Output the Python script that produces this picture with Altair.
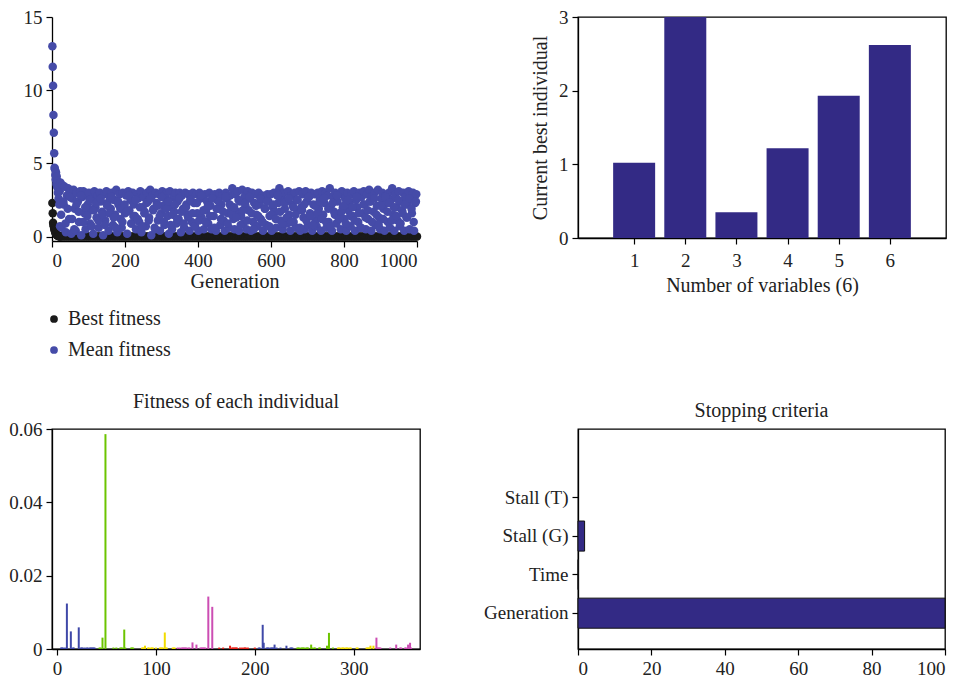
import altair as alt
import pandas as pd

FONT = "Liberation Serif"

# ---------------- Panel 1: fitness per generation ----------------
early_gen = list(range(1, 23))
mean_early = [13.0, 11.6, 10.3, 8.3, 7.1, 5.7, 4.7, 4.6, 4.2, 3.9, 4.4,
              3.6, 4.1, 3.4, 3.8, 3.0, 3.3, 2.6, 3.5, 2.2, 3.1, 0.7]
best_early = [2.3, 1.6, 0.95, 0.8, 0.7, 0.55, 0.45, 0.38, 0.3, 0.25, 0.2,
              0.16, 0.13, 0.1, 0.08, 0.06, 0.05, 0.04, 0.03, 0.02, 0.02, 0.01]

# mean fitness, generations 23, 26, 29, ...
mean_late = [
    3.7, 0.6, 3.5, 2.2, 3.4, 0.3, 2.8, 3.3, 1.2, 3.1, 0.2, 2.6, 3.2, 1.9, 0.4, 3.0, 2.4, 1.0, 3.1, 0.1,
    2.7, 3.1, 1.6, 0.5, 2.9, 2.2, 3.0, 0.9, 1.8, 2.6, 0.2, 3.1, 2.0, 1.3, 2.8, 0.6, 3.0, 2.4, 1.7, 0.1,
    2.9, 1.1, 3.1, 2.3, 0.4, 2.7, 1.9, 3.0, 0.8, 2.5, 1.5, 3.2, 0.3, 2.2, 2.9, 1.2, 0.6, 3.0, 2.0, 1.6,
    2.8, 0.2, 3.1, 1.8, 2.5, 0.9, 3.0, 2.2, 1.4, 0.5, 2.9, 2.6, 1.0, 3.1, 0.3, 2.0, 2.7, 1.7, 0.7, 3.0,
    2.4, 1.3, 3.2, 0.1, 2.8, 1.9, 0.6, 3.0, 2.3, 1.1, 2.9, 0.4, 1.6, 3.1, 2.1, 0.8, 2.6, 3.0, 1.4, 0.2,
    3.1, 2.0, 0.5, 2.7, 1.7, 3.0, 0.9, 2.4, 1.2, 3.0, 0.3, 2.8, 1.9, 0.6, 3.0, 2.2, 1.5, 2.9, 0.4, 2.5,
    1.0, 3.0, 2.3, 0.7, 2.9, 1.6, 0.4, 3.0, 2.6, 1.3, 2.8, 0.5, 2.9, 1.8, 2.4, 0.9, 3.0, 2.1, 0.5, 2.7,
    1.4, 2.9, 0.4, 2.5, 1.9, 3.0, 0.8, 2.2, 2.8, 1.1, 0.4, 3.0, 2.6, 1.6, 0.6, 2.8, 2.0, 3.3, 1.2, 0.5,
    2.9, 1.7, 3.1, 0.4, 2.4, 1.4, 3.2, 0.9, 2.7, 2.1, 0.5, 3.1, 1.8, 2.6, 0.4, 3.0, 1.0, 2.3, 2.9, 1.5,
    0.7, 3.0, 2.2, 1.2, 2.8, 0.4, 2.6, 1.9, 0.8, 2.9, 2.4, 1.4, 2.9, 0.4, 2.0, 3.0, 1.7, 0.6, 2.8, 2.3,
    3.3, 1.1, 2.7, 0.5, 3.0, 1.9, 2.4, 0.9, 3.1, 1.5, 0.4, 2.8, 2.2, 1.0, 3.0, 0.6, 2.5, 1.8, 3.1, 0.4,
    2.0, 2.9, 1.3, 0.5, 3.1, 2.4, 0.8, 2.7, 1.6, 3.0, 0.4, 2.2, 2.9, 1.1, 0.7, 3.0, 1.9, 2.6, 0.4, 3.1,
    1.5, 2.3, 3.0, 0.6, 2.8, 1.0, 3.3, 2.1, 0.4, 2.7, 1.7, 3.0, 0.9, 2.4, 1.3, 2.9, 0.5, 3.1, 2.0, 1.2,
    2.6, 0.4, 3.0, 1.8, 2.3, 0.7, 2.9, 1.4, 3.1, 0.4, 2.5, 2.0, 1.0, 3.0, 0.6, 2.7, 1.6, 3.1, 2.2, 0.5,
    2.9, 1.2, 3.2, 2.4, 0.4, 2.8, 1.7, 3.0, 0.8, 2.1, 3.2, 1.3, 0.5, 2.6, 3.0, 1.9, 0.4, 2.8, 2.3, 1.0,
    3.0, 0.6, 2.5, 3.3, 1.5, 0.4, 2.9, 2.0, 1.1, 3.1, 0.7, 2.4, 1.8, 3.0, 0.4, 2.7, 1.3, 2.2, 3.1, 0.5,
    2.6, 1.6, 3.0, 0.4, 2.3, 2.9,
]
late_gen = list(range(23, 1001, 3))[:len(mean_late)]

# mean fitness, generations 25, 31, 37, ...
mean_mid = [
    1.5, 2.4, 0.9, 1.9, 2.7, 1.2, 0.5, 2.2, 1.7, 2.8, 1.0, 2.0, 1.4, 2.5, 0.7, 1.8, 2.3, 1.1, 2.6, 1.5,
    0.8, 2.1, 1.6, 2.7, 1.3, 0.6, 2.4, 1.9, 1.0, 2.2, 1.7, 2.8, 0.9, 1.4, 2.5, 1.2, 2.0, 0.7, 1.6, 2.3,
    1.1, 2.6, 1.8, 0.5, 2.1, 1.4, 2.7, 1.0, 1.9, 2.4, 0.8, 1.5, 2.2, 1.2, 2.6, 1.7, 0.9, 2.0, 1.3, 2.5,
    1.6, 0.7, 2.3, 1.1, 2.8, 1.8, 1.0, 2.1, 1.4, 2.6, 0.6, 1.9, 2.4, 1.2, 1.7, 2.7, 0.9, 2.2, 1.5, 2.0,
    1.3, 2.5, 0.8, 1.8, 2.3, 1.1, 2.7, 1.6, 0.5, 2.1, 1.4, 2.6, 1.0, 1.9, 2.4, 0.7, 1.5, 2.2, 1.2, 2.8,
    1.7, 0.9, 2.3, 1.3, 2.6, 1.0, 2.0, 1.5, 2.5, 0.6, 1.8, 2.2, 1.1, 2.7, 1.4, 0.8, 2.1, 1.6, 2.4, 1.2,
    2.6, 1.0, 1.9, 0.7, 2.3, 1.5, 2.8, 1.2, 1.7, 2.1, 0.9, 2.5, 1.4, 2.0, 1.1, 2.7, 1.6, 0.6, 2.2, 1.3,
    1.8, 2.4, 1.0, 2.6, 1.5, 0.8, 2.1, 1.2, 2.7, 1.7, 2.3, 1.1, 2.0, 1.4, 2.5, 0.9, 1.6, 2.2, 1.3, 2.6,
    1.9, 1.0, 2.4,
]
mid_gen = list(range(25, 1001, 6))[:len(mean_mid)]

best_late_gen = list(range(25, 1001, 5))
best_late = [0.0 for _ in best_late_gen]  # best fitness stays at zero

rows1 = []
for g, v in zip(early_gen + best_late_gen, best_early + best_late):
    rows1.append({"gen": g, "val": v, "series": "Best fitness"})
for g, v in zip(early_gen + late_gen + mid_gen, mean_early + mean_late + mean_mid):
    rows1.append({"gen": g, "val": v, "series": "Mean fitness"})
df1 = pd.DataFrame(rows1)

tl = alt.Chart(df1).mark_circle(size=72, opacity=1).encode(
    x=alt.X("gen:Q", scale=alt.Scale(domain=[0, 1000], nice=False),
            axis=alt.Axis(values=[0, 200, 400, 600, 800, 1000], format="d",
                          title="Generation", titlePadding=1)),
    y=alt.Y("val:Q", scale=alt.Scale(domain=[-0.3, 15], nice=False, zero=False),
            axis=alt.Axis(values=[0, 5, 10, 15], title=None)),
    color=alt.Color("series:N",
                    scale=alt.Scale(domain=["Best fitness", "Mean fitness"], range=["#1a1a1a", "#454ba8"]),
                    legend=alt.Legend(title=None, orient="none", legendX=-8, legendY=292,
                                      labelFont=FONT, labelFontSize=20, labelColor="#222",
                                      symbolSize=60, rowPadding=11, labelOffset=4, padding=0)),
).properties(width=365, height=224, view=alt.ViewBackground(stroke=None))

# ---------------- Panel 2: current best individual ----------------
var_idx = [1, 2, 3, 4, 5, 6]
best_ind = [1.02, 3.0, 0.35, 1.22, 1.93, 2.62]
df2 = pd.DataFrame({"var": var_idx, "best": best_ind})

tr = alt.Chart(df2).mark_bar(color="#332a85", size=42, clip=True).encode(
    x=alt.X("var:Q", scale=alt.Scale(domain=[0, 7], nice=False),
            axis=alt.Axis(values=var_idx, title="Number of variables (6)",
                          labelPadding=7, titlePadding=5)),
    y=alt.Y("best:Q", scale=alt.Scale(domain=[0, 3], nice=False),
            axis=alt.Axis(values=[0, 1, 2, 3], title="Current best individual", titlePadding=8)),
).properties(width=368, height=221)

# ---------------- Panel 3: fitness of each individual ----------------
big_idx = [10, 14, 22, 46, 49, 68, 89, 109, 137, 141, 153, 157, 175, 208, 209, 220,
           232, 257, 273, 275, 317, 320, 323, 343, 355, 357]
big_val = [0.0124, 0.0048, 0.0059, 0.0031, 0.0586, 0.0053, 0.0009, 0.0045, 0.0018, 0.0012,
           0.0143, 0.0115, 0.0009, 0.0066, 0.0017, 0.0012, 0.0009, 0.0012, 0.0009, 0.0044,
           0.0009, 0.0009, 0.0031, 0.0012, 0.0012, 0.0017]
small_idx = [4, 5, 6, 8, 16, 17, 24, 25, 26, 28, 30, 31, 33, 34, 35, 36, 37, 38,
             43, 44, 57, 60, 64, 65, 66, 69, 75, 76, 77,
             86, 87, 88, 92, 93, 95, 96, 97, 100, 104, 105, 106, 107, 110, 111, 117, 118, 119,
             122, 124, 126, 127, 128, 129, 130, 131, 133, 134, 145, 146, 147, 148, 149, 150,
             164, 168, 177, 178, 179, 180, 181, 182, 185, 187, 189, 190, 191, 193, 200,
             204, 205, 212, 213, 214, 216, 217, 218, 219, 222, 226, 236, 237, 238,
             243, 244, 245, 247, 248, 249, 250, 252, 253, 254, 258, 260, 261, 265, 266, 279,
             284, 285, 286, 288, 289, 290, 292, 293, 294, 296, 297, 303, 304, 313, 314, 315, 316,
             324, 325, 326, 327, 337, 347, 348, 352, 353, 358]
small_val = 0.0004
group_names = ["g1", "g2", "g3", "g4", "g5"]
group_colors = ["#3f48a8", "#6cc400", "#f2dc00", "#cc4db3", "#e8251e"]

rows3 = []
for i, v in zip(big_idx + small_idx, big_val + [small_val] * len(small_idx)):
    rows3.append({"ind": i, "fit": v, "grp": group_names[((i - 1) // 40) % 5]})
df3 = pd.DataFrame(rows3)

bl = alt.Chart(df3).mark_bar(size=2).encode(
    x=alt.X("ind:Q", scale=alt.Scale(domain=[0, 362], nice=False),
            axis=alt.Axis(values=[0, 100, 200, 300], title=None)),
    y=alt.Y("fit:Q", scale=alt.Scale(domain=[0, 0.06], nice=False),
            axis=alt.Axis(values=[0, 0.02, 0.04, 0.06], title=None,
                          labelExpr="datum.value == 0 ? '0' : format(datum.value, '.2f')")),
    color=alt.Color("grp:N", scale=alt.Scale(domain=group_names, range=group_colors), legend=None),
).properties(width=368, height=220, title="Fitness of each individual")

# ---------------- Panel 4: stopping criteria ----------------
criteria = ["Stall (T)", "Stall (G)", "Time", "Generation"]
crit_val = [0.0, 1.8, 0.1, 100.0]
df4 = pd.DataFrame({"crit": criteria, "pct": crit_val})

br = alt.Chart(df4).mark_bar(color="#332a85", strokeWidth=1).encode(
    x=alt.X("pct:Q", scale=alt.Scale(domain=[0, 100], nice=False),
            axis=alt.Axis(values=[0, 20, 40, 60, 80, 100], title=None)),
    y=alt.Y("crit:N", sort=criteria,
            scale=alt.Scale(paddingInner=0.22, paddingOuter=0.963, align=0.72),
            axis=alt.Axis(title=None, labelPadding=4)),
    stroke=alt.condition(alt.datum.pct > 0, alt.value("#111111"), alt.value("transparent")),
).properties(width=367, height=220, title="Stopping criteria")

chart = alt.concat(
    tl, tr, bl, br, columns=2, spacing={"row": 188, "column": 158}, bounds="flush"
).resolve_scale(
    color="independent"
).properties(
    padding={"left": 8, "top": 7, "right": 5, "bottom": 5}
).configure(
    font=FONT, background="white"
).configure_axis(
    labelFont=FONT, titleFont=FONT, labelFontSize=19, titleFontSize=20,
    titleFontWeight="normal", labelColor="#222", titleColor="#222",
    domainColor="black", domainWidth=1.3, tickColor="black", tickSize=6, tickWidth=1.2,
    grid=False, labelPadding=4
).configure_view(
    stroke="black", strokeWidth=1.3
).configure_title(
    font=FONT, fontSize=20, fontWeight="normal", color="#222", anchor="middle", offset=8
)

chart.save("out.html", embed_options={"renderer": "svg", "actions": False})
